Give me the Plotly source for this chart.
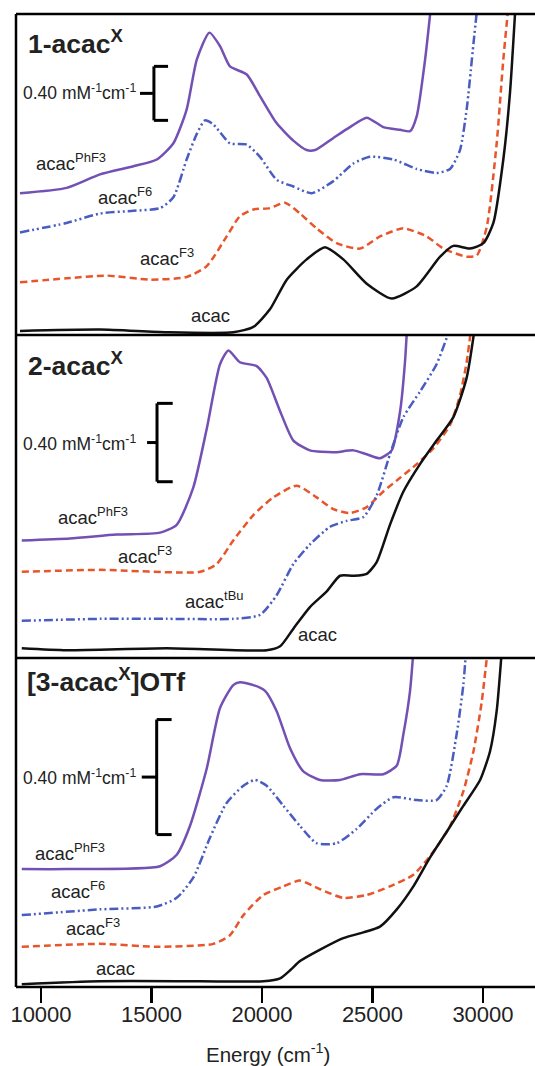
import plotly.graph_objects as go

# ---------------- data (energy in cm^-1, epsilon-offset traces in mM^-1 cm^-1) ----------------
# Panel 1: 1-acacX
p1_phf3_E = [9050, 11160, 12670, 14180, 15240, 15990, 16590, 17050, 17620, 18100, 18550, 19310, 19910, 20660, 21420, 22020, 22400, 23230, 23980, 24740, 25490, 26250, 26700, 27000, 27380, 27700]
p1_phf3_y = [1.05, 1.09, 1.19, 1.25, 1.30, 1.42, 1.67, 2.04, 2.24, 2.14, 1.99, 1.93, 1.77, 1.57, 1.44, 1.37, 1.37, 1.46, 1.54, 1.61, 1.54, 1.52, 1.51, 1.62, 2.04, 2.52]
p1_f6_E = [9050, 11160, 12670, 14180, 15390, 15990, 16590, 17050, 17420, 17800, 18550, 19310, 19910, 20660, 21420, 22250, 23230, 24130, 24890, 25950, 27000, 27900, 28510, 28960, 29260, 29570, 29800]
p1_f6_y = [0.76, 0.83, 0.90, 0.92, 0.94, 1.02, 1.30, 1.49, 1.59, 1.56, 1.42, 1.41, 1.32, 1.15, 1.10, 1.05, 1.14, 1.27, 1.32, 1.30, 1.23, 1.20, 1.23, 1.37, 1.67, 2.16, 2.52]
p1_f3_E = [9050, 11160, 12970, 14930, 16590, 17500, 18400, 19000, 19610, 20360, 21040, 21720, 22470, 23380, 24440, 25340, 26400, 27450, 28210, 29260, 29720, 30170, 30620, 30920, 31200]
p1_f3_y = [0.39, 0.42, 0.44, 0.41, 0.43, 0.51, 0.73, 0.88, 0.93, 0.94, 0.98, 0.90, 0.79, 0.68, 0.64, 0.73, 0.79, 0.73, 0.64, 0.58, 0.59, 0.80, 1.42, 2.04, 2.52]
p1_acac_E = [9050, 12670, 15690, 18700, 19610, 20360, 21120, 22020, 22850, 23680, 24740, 25870, 27000, 28060, 28660, 29410, 30020, 30470, 30920, 31220, 31500]
p1_acac_y = [0.03, 0.04, 0.02, 0.02, 0.06, 0.19, 0.41, 0.56, 0.65, 0.56, 0.38, 0.27, 0.36, 0.58, 0.66, 0.64, 0.68, 0.83, 1.30, 1.79, 2.52]

# Panel 2: 2-acacX
p2_phf3_E = [9130, 11310, 13420, 15390, 16140, 16890, 17500, 18100, 18480, 19000, 19760, 20210, 20820, 21420, 22170, 23230, 24130, 24740, 25340, 25870, 26250, 26470, 26600]
p2_phf3_y = [0.60, 0.61, 0.63, 0.64, 0.68, 0.87, 1.17, 1.50, 1.57, 1.51, 1.49, 1.43, 1.26, 1.11, 1.06, 1.05, 1.06, 1.04, 1.02, 1.06, 1.26, 1.51, 1.76]
p2_f3_E = [9130, 12670, 17200, 17950, 18700, 19610, 20510, 21570, 22470, 23230, 23980, 24740, 25490, 26250, 27000, 27750, 28510, 28960, 29260, 29550]
p2_f3_y = [0.44, 0.45, 0.44, 0.48, 0.60, 0.73, 0.82, 0.88, 0.82, 0.76, 0.74, 0.77, 0.85, 0.92, 0.99, 1.07, 1.19, 1.34, 1.51, 1.76]
p2_tbu_E = [9130, 12670, 15690, 18700, 19910, 20660, 21420, 22170, 23080, 23830, 24590, 25190, 25790, 26400, 27150, 27900, 28750]
p2_tbu_y = [0.19, 0.20, 0.20, 0.20, 0.22, 0.32, 0.48, 0.58, 0.67, 0.70, 0.72, 0.83, 1.04, 1.23, 1.36, 1.50, 1.76]
p2_acac_E = [9130, 11160, 15690, 20210, 20820, 21420, 22170, 22930, 23530, 24130, 24740, 25190, 25790, 26400, 27150, 27900, 28660, 29260, 29720]
p2_acac_y = [0.05, 0.04, 0.05, 0.04, 0.06, 0.15, 0.26, 0.34, 0.42, 0.42, 0.43, 0.49, 0.68, 0.85, 0.99, 1.11, 1.23, 1.43, 1.76]

# Panel 3: [3-acacX]OTf
p3_phf3_E = [9130, 11160, 15390, 16140, 16740, 17500, 18100, 18700, 19000, 19610, 20140, 20660, 21270, 21870, 22630, 23530, 24440, 25490, 26100, 26400, 26700, 26900]
p3_phf3_y = [0.41, 0.41, 0.42, 0.46, 0.56, 0.76, 0.97, 1.05, 1.06, 1.05, 1.03, 0.96, 0.83, 0.75, 0.72, 0.72, 0.74, 0.74, 0.77, 0.88, 1.03, 1.22]
p3_f6_E = [9130, 12670, 15240, 16140, 16890, 17650, 18400, 19160, 19680, 20210, 20970, 21720, 22470, 23380, 24290, 25190, 25950, 27000, 27900, 28360, 28810, 29110, 29280]
p3_f6_y = [0.25, 0.27, 0.28, 0.31, 0.38, 0.52, 0.64, 0.70, 0.72, 0.70, 0.63, 0.56, 0.50, 0.50, 0.55, 0.62, 0.66, 0.65, 0.65, 0.70, 0.88, 1.05, 1.22]
p3_f3_E = [9130, 12670, 15240, 17800, 18550, 19160, 20060, 20970, 21720, 22630, 23680, 24740, 25790, 26850, 27750, 28510, 29110, 29570, 29940, 30280]
p3_f3_y = [0.14, 0.15, 0.14, 0.15, 0.18, 0.25, 0.32, 0.35, 0.37, 0.34, 0.31, 0.32, 0.35, 0.39, 0.47, 0.56, 0.68, 0.82, 0.99, 1.22]
p3_acac_E = [9130, 12670, 17200, 20060, 20820, 21300, 21720, 22630, 23680, 24590, 25340, 26100, 26850, 27600, 28360, 29110, 29870, 30320, 30620, 30900]
p3_acac_y = [0.01, 0.02, 0.02, 0.02, 0.03, 0.06, 0.09, 0.13, 0.17, 0.19, 0.21, 0.27, 0.35, 0.45, 0.54, 0.63, 0.72, 0.82, 0.96, 1.22]

x_ticks = [10000, 15000, 20000, 25000, 30000]
x_tick_labels = ["10000", "15000", "20000", "25000", "30000"]
panel_titles = ["<b>1-acac<sup>X</sup></b>", "<b>2-acac<sup>X</sup></b>", "<b>[3-acac<sup>X</sup>]OTf</b>"]
scale_value = 0.40
scale_label = "0.40 mM<sup>-1</sup>cm<sup>-1</sup>"

# ---------------- styling ----------------
PURPLE = "#7350b3"
BLUE = "#4a5cc2"
ORANGE = "#e8552a"
BLACK = "#111111"
DASH_F3 = "7px,4px"
DASH_DDOT = "9px,3px,2px,3px,2px,3px"
FONT = "Liberation Sans, Arial, sans-serif"

fig = go.Figure()

def add(E, y, color, dash, yaxis):
    fig.add_trace(go.Scatter(
        x=E, y=y, mode="lines", xaxis="x", yaxis=yaxis,
        line=dict(color=color, width=2.5, dash=dash, shape="spline", smoothing=0.6),
        showlegend=False, hoverinfo="skip"))

add(p1_phf3_E, p1_phf3_y, PURPLE, "solid", "y")
add(p1_f6_E, p1_f6_y, BLUE, DASH_DDOT, "y")
add(p1_f3_E, p1_f3_y, ORANGE, DASH_F3, "y")
add(p1_acac_E, p1_acac_y, BLACK, "solid", "y")

add(p2_phf3_E, p2_phf3_y, PURPLE, "solid", "y2")
add(p2_f3_E, p2_f3_y, ORANGE, DASH_F3, "y2")
add(p2_tbu_E, p2_tbu_y, BLUE, DASH_DDOT, "y2")
add(p2_acac_E, p2_acac_y, BLACK, "solid", "y2")

add(p3_phf3_E, p3_phf3_y, PURPLE, "solid", "y3")
add(p3_f6_E, p3_f6_y, BLUE, DASH_DDOT, "y3")
add(p3_f3_E, p3_f3_y, ORANGE, DASH_F3, "y3")
add(p3_acac_E, p3_acac_y, BLACK, "solid", "y3")

shapes = []
# panel frames (top, dividers, bottom, left)
for yy in [0.0, 0.3381, 0.6701, 1.0]:
    shapes.append(dict(type="line", xref="paper", yref="paper", x0=0, x1=1.05, y0=yy, y1=yy,
                       line=dict(color="black", width=2.5)))
shapes.append(dict(type="line", xref="paper", yref="paper", x0=0, x1=0, y0=0, y1=1,
                   line=dict(color="black", width=2.5)))

# scale bars (data coordinates): (yref, x of bar, bottom, right tick end, left middle tick end)
bars = [("y", 15110, 1.59, 15750, 14480),
        ("y2", 15250, 0.90, 15960, 14800),
        ("y3", 15235, 0.53, 15910, 14560)]
for yref, xb, yb, xr, xl in bars:
    yt = yb + scale_value
    ym = yb + scale_value / 2
    lw = dict(color="black", width=3)
    shapes.append(dict(type="line", xref="x", yref=yref, x0=xb, x1=xb, y0=yb, y1=yt, line=lw))
    shapes.append(dict(type="line", xref="x", yref=yref, x0=xb, x1=xr, y0=yt, y1=yt, line=lw))
    shapes.append(dict(type="line", xref="x", yref=yref, x0=xb, x1=xr, y0=yb, y1=yb, line=lw))
    shapes.append(dict(type="line", xref="x", yref=yref, x0=xl, x1=xb, y0=ym, y1=ym, line=lw))

annotations = []
def txt(text, x, y, size, xanchor="center"):
    annotations.append(dict(text=text, x=x, y=y, xref="paper", yref="paper", showarrow=False,
                            xanchor=xanchor, yanchor="middle",
                            font=dict(family=FONT, size=size, color="#222222")))

LBL = 18.5
# panel titles
txt(panel_titles[0], 0.019, 0.9712, 26.5, "left")
txt(panel_titles[1], 0.019, 0.6398, 26.5, "left")
txt(panel_titles[2], 0.017, 0.3152, 26.5, "left")
# scale labels
txt(scale_label, 0.235, 0.9198, 17.5, "right")
txt(scale_label, 0.2345, 0.5591, 17.5, "right")
txt(scale_label, 0.235, 0.2158, 17.5, "right")
# curve labels panel 1
txt("acac<sup>PhF3</sup>", 0.1069, 0.8479, LBL)
txt("acac<sup>F6</sup>", 0.2091, 0.8129, LBL)
txt("acac<sup>F3</sup>", 0.2900, 0.7503, LBL)
txt("acac", 0.3757, 0.6906, LBL)
# panel 2
txt("acac<sup>PhF3</sup>", 0.1493, 0.4841, LBL)
txt("acac<sup>F3</sup>", 0.2495, 0.4443, LBL)
txt("acac<sup>tBu</sup>", 0.3834, 0.3980, LBL)
txt("acac", 0.5809, 0.3621, LBL)
# panel 3
txt("acac<sup>PhF3</sup>", 0.1050, 0.1387, LBL)
txt("acac<sup>F6</sup>", 0.1204, 0.0997, LBL)
txt("acac<sup>F3</sup>", 0.1493, 0.0617, LBL)
txt("acac", 0.1908, 0.0195, LBL)
# x-axis title
txt("Energy (cm<sup>-1</sup>)", 0.4846, -0.0675, 20.5)

fig.update_layout(
    width=535, height=1066,
    margin=dict(l=16, r=0, t=14, b=79),
    paper_bgcolor="white", plot_bgcolor="white",
    font=dict(family=FONT, color="#222222"),
    showlegend=False,
    xaxis=dict(range=[8869, 32354], anchor="y3", tickvals=x_ticks, ticktext=x_tick_labels,
               ticks="outside", ticklen=15, tickwidth=2.5, tickcolor="black",
               ticklabelstandoff=-7,
               showgrid=False, zeroline=False, showline=False,
               tickfont=dict(family=FONT, size=22, color="#222222")),
    yaxis=dict(domain=[0.6701, 1.0], range=[0, 2.378], visible=False, anchor="x"),
    yaxis2=dict(domain=[0.3381, 0.6701], range=[0, 1.649], visible=False, anchor="x"),
    yaxis3=dict(domain=[0.0, 0.3381], range=[0, 1.144], visible=False, anchor="x"),
    shapes=shapes,
    annotations=annotations,
)

fig.write_html("out.html",
               config={"displayModeBar": False, "staticPlot": True},
               post_script="document.body.style.margin='0';document.body.style.overflow='hidden';")
